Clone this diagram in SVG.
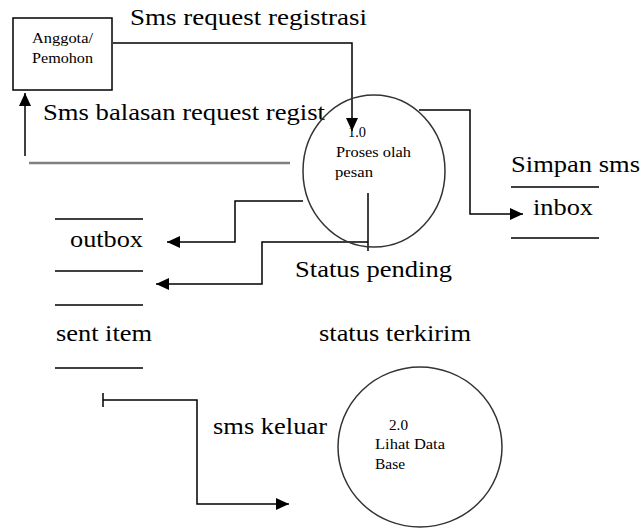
<svg xmlns="http://www.w3.org/2000/svg" width="641" height="528" viewBox="0 0 641 528">
<style>
.big{font-family:'Liberation Serif','Times New Roman',serif;font-size:24px;fill:#000}
.small{font-family:'Liberation Serif','Times New Roman',serif;font-size:14px;fill:#000}
.line{fill:none;stroke:#000;stroke-width:1.5}
.node{fill:none;stroke:#333;stroke-width:1.5}
.store{stroke:#000;stroke-width:1.5}
.gray{fill:none;stroke:#808080;stroke-width:2.5}
</style>
<defs>
<marker id="arr" markerUnits="userSpaceOnUse" markerWidth="14" markerHeight="12" refX="13" refY="6" orient="auto">
<path d="M0,0 L13,6 L0,12 z" fill="#000"/>
</marker>
</defs>
<rect width="641" height="528" fill="#fff"/>

<g id="connectors">
<polyline class="line" points="113,43 352,43 352,131" marker-end="url(#arr)"/>
<line class="line" x1="25" y1="156" x2="25" y2="93" marker-end="url(#arr)"/>
<line class="gray" x1="29" y1="163" x2="290" y2="163"/>
<polyline class="line" points="303,201 235,201 235,242 167,242" marker-end="url(#arr)"/>
<line class="line" x1="368" y1="193" x2="368" y2="251"/>
<polyline class="line" points="368,242 262,242 262,284 156,284" marker-end="url(#arr)"/>
<polyline class="line" points="419,110 470,110 470,214 523,214" marker-end="url(#arr)"/>
<line class="line" x1="103" y1="393" x2="103" y2="407"/>
<polyline class="line" points="103,400 197,400 197,504 289,504" marker-end="url(#arr)"/>
</g>

<g id="labels">
<text class="big" x="130" y="25" textLength="237" lengthAdjust="spacingAndGlyphs">Sms request registrasi</text>
<text class="big" x="43" y="120" textLength="282" lengthAdjust="spacingAndGlyphs">Sms balasan request regist</text>
<text class="big" x="295" y="277" textLength="157" lengthAdjust="spacingAndGlyphs">Status pending</text>
<text class="big" x="319" y="341" textLength="152" lengthAdjust="spacingAndGlyphs">status terkirim</text>
<text class="big" x="213" y="434" textLength="114" lengthAdjust="spacingAndGlyphs">sms keluar</text>
<text class="big" x="511" y="172" textLength="129" lengthAdjust="spacingAndGlyphs">Simpan sms</text>
</g>

<g id="anggota">
<rect x="13" y="18" width="99" height="72" fill="none" stroke="#000" stroke-width="1.5"/>
<text class="small" x="32" y="43" textLength="61" lengthAdjust="spacingAndGlyphs">Anggota/</text>
<text class="small" x="32" y="63" textLength="61" lengthAdjust="spacingAndGlyphs">Pemohon</text>
</g>

<g id="proses">
<ellipse class="node" cx="374" cy="171" rx="71" ry="76"/>
<text class="small" x="348" y="137" textLength="18" lengthAdjust="spacingAndGlyphs">1.0</text>
<text class="small" x="336" y="157" textLength="75" lengthAdjust="spacingAndGlyphs">Proses olah</text>
<text class="small" x="335" y="177" textLength="38" lengthAdjust="spacingAndGlyphs">pesan</text>
</g>

<g id="lihat">
<ellipse class="node" cx="420" cy="447" rx="82" ry="80"/>
<text class="small" x="389" y="430" textLength="19" lengthAdjust="spacingAndGlyphs">2.0</text>
<text class="small" x="375" y="449" textLength="70" lengthAdjust="spacingAndGlyphs">Lihat Data</text>
<text class="small" x="375" y="469" textLength="30" lengthAdjust="spacingAndGlyphs">Base</text>
</g>

<g id="outbox-store">
<line class="store" x1="55" y1="219" x2="143" y2="219"/>
<text class="big" x="70" y="247" textLength="73" lengthAdjust="spacingAndGlyphs">outbox</text>
<line class="store" x1="55" y1="271" x2="143" y2="271"/>
<line class="store" x1="55" y1="305" x2="143" y2="305"/>
<text class="big" x="56" y="341" textLength="96" lengthAdjust="spacingAndGlyphs">sent item</text>
<line class="store" x1="55" y1="368" x2="143" y2="368"/>
</g>

<g id="inbox-store">
<line class="store" x1="511" y1="187" x2="599" y2="187"/>
<text class="big" x="533" y="215" textLength="60" lengthAdjust="spacingAndGlyphs">inbox</text>
<line class="store" x1="511" y1="238" x2="599" y2="238"/>
</g>
</svg>
